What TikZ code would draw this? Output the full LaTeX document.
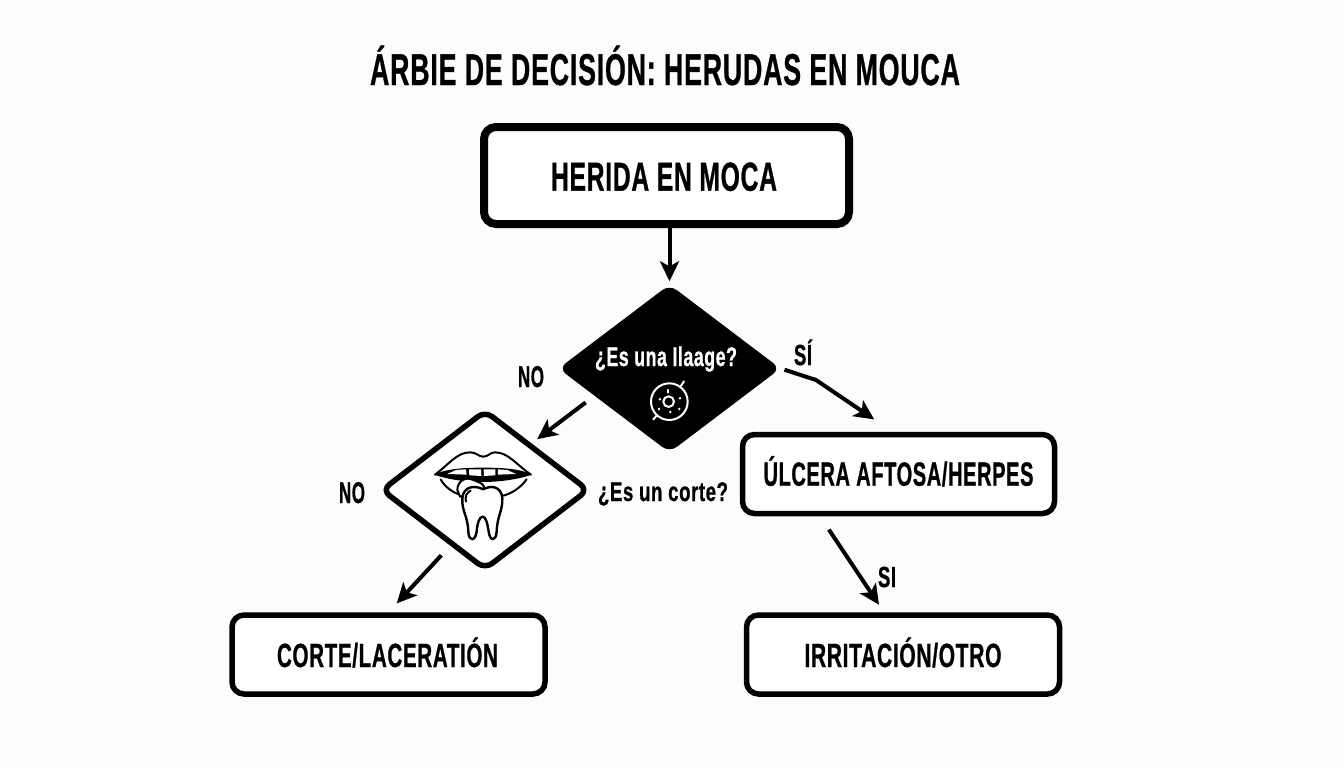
\documentclass[tikz,border=0pt]{standalone}
\usepackage{graphicx}
\usepackage{fontspec}
\setmainfont[LetterSpace=3,BoldFeatures={FakeBold=1}]{Liberation Sans}
\usetikzlibrary{shapes.geometric,arrows.meta,calc}
\newcommand{\fitw}[3]{\resizebox{#2pt}{\height}{\fontsize{#1pt}{#1pt}\selectfont\bfseries #3}}
\tikzset{
  boxnode/.style={draw=black,rounded corners=12pt,line width=5.5pt,fill=white,inner sep=0pt},
  dianode/.style={diamond,inner sep=0pt,rounded corners=9pt},
  lbl/.style={inner sep=0pt,text=black,anchor=base},
  conn/.style={draw=black,line width=4pt,-{Stealth[length=20pt,width=19pt,inset=5pt]}},
  icon/.style={line width=2pt,draw=black,line join=round,line cap=round},
  iconw/.style={line width=2pt,draw=white,line cap=round}
}
\begin{document}
\begin{tikzpicture}[x=1pt,y=-1pt]
\useasboundingbox (0,0) rectangle (1344,768);
\fill[white!99!black] (0,0) rectangle (1344,768);
% boxes
\node[boxnode,line width=8pt,minimum width=365pt,minimum height=97pt] (top) at (666.5,175.5) {};
\node[boxnode,minimum width=312pt,minimum height=79pt] (ulcer) at (898.5,474) {};
\node[boxnode,minimum width=313pt,minimum height=79pt] (corte) at (388.5,654.5) {};
\node[boxnode,minimum width=313pt,minimum height=79pt] (irr) at (903,654.5) {};
% diamonds
\node[dianode,fill=black,minimum width=222pt,minimum height=168pt] (black) at (669.5,368.5) {};
\node[dianode,draw=black,line width=5.5pt,fill=white,minimum width=208pt,minimum height=160pt] (white) at (485,490) {};
% texts
\node[lbl] (title) at (665,85) {\fitw{44.5}{590}{ÁRBIE DE DECISIÓN: HERUDAS EN MOUCA}};
\node[lbl] (ttop) at (664,190.7) {\fitw{40.5}{226}{HERIDA EN MOCA}};
\node[lbl,text=white] (tblack) at (666,366) {\fitw{27}{142}{¿Es una Ilaage?}};
\node[lbl] (twhite) at (663,501) {\fitw{27}{130}{¿Es un corte?}};
\node[lbl] (tulcer) at (898.5,485.7) {\fitw{33.5}{270}{ÚLCERA AFTOSA/HERPES}};
\node[lbl] (tcorte) at (387.5,667) {\fitw{33.5}{221}{CORTE/LACERATIÓN}};
\node[lbl] (tirr) at (903,667) {\fitw{33.5}{197}{IRRITACIÓN/OTRO}};
\node[lbl] (no1) at (531,387) {\fitw{30}{26}{NO}};
\node[lbl] (no2) at (352,503) {\fitw{30}{26}{NO}};
\node[lbl] (si1) at (803,365) {\fitw{29}{18}{SÍ}};
\node[lbl] (si2) at (887,587) {\fitw{29}{18}{SI}};
% connectors
\draw[conn,shorten >=3pt] ($(top.south)+(3,0)$) -- (black.north);
\draw[conn,shorten <=11pt,shorten >=7pt] (black.200.8) -- (white.45.4);
\coordinate (bend) at (816,380);
\draw[conn,shorten <=4pt,shorten >=22pt,line join=round] (black.east) -- (bend) -- ($(ulcer.north)+(-6,0)$);
\draw[conn,shorten <=16pt,shorten >=9pt] ($(ulcer.south)+(-78.5,0)$) -- ($(irr.north)+(-19,0)$);
\draw[conn,shorten <=13pt,shorten >=12pt] (white.238.8) -- (corte.north);
% black diamond icon
\begin{scope}[shift={(540,280)},x=0.3333pt,y=-0.3333pt]
  \draw[iconw] (388,365) circle (55);
  \draw[iconw] (386,365) circle (16);
  \draw[iconw] (420,322) -- (432,304);
  \draw[iconw] (352,405) -- (340,418);
  \draw[iconw] (384,330) -- (384,338);
  \fill[white] (360,358) circle (4) (357,387) circle (4) (391,396) circle (4) (418,387) circle (4) (420,355) circle (4);
\end{scope}
% mouth and tooth icon
\begin{scope}[shift={(370,400)},x=0.3333pt,y=-0.3333pt]
  \draw[icon,fill=white] (195,224) .. controls (235,195) and (260,157) .. (300,157)
     .. controls (320,157) and (325,170) .. (340,170)
     .. controls (355,170) and (360,157) .. (375,157)
     .. controls (415,157) and (440,195) .. (483,224);
  \fill[black] (192,224) .. controls (230,205) and (290,203) .. (340,203)
     .. controls (390,203) and (450,205) .. (485,224)
     .. controls (440,240) and (380,246) .. (340,246)
     .. controls (290,246) and (240,240) .. (192,224) -- cycle;
  \fill[white] (232,222) -- (258,210) -- (288,208) -- (290,224) -- cycle
     (297,208) -- (333,208) -- (334,228) -- (298,226) -- cycle
     (341,208) -- (376,208) -- (376,226) -- (342,228) -- cycle
     (384,208) -- (412,210) -- (438,222) -- (384,224) -- cycle;
  \draw[icon] (212,238) .. controls (225,262) and (250,278) .. (272,285);
  \draw[icon] (470,238) .. controls (450,265) and (425,280) .. (400,287);
  \draw[icon,fill=white] (262,270) .. controls (262,245) and (285,228) .. (310,240) .. controls (335,250) and (350,255) .. (340,275) -- (270,290) -- cycle;
  \draw[icon,fill=white,line width=2.4pt] (340,268)
     .. controls (315,255) and (280,258) .. (277,295)
     .. controls (275,335) and (293,345) .. (295,395)
     .. controls (296,425) and (316,425) .. (320,395)
     .. controls (322,370) and (328,350) .. (338,350)
     .. controls (348,350) and (352,370) .. (356,395)
     .. controls (360,425) and (378,425) .. (380,395)
     .. controls (382,345) and (398,335) .. (397,295)
     .. controls (394,258) and (362,255) .. (340,268) -- cycle;
  \draw[icon] (288,305) .. controls (284,290) and (290,278) .. (302,272);
\end{scope}
\end{tikzpicture}
\end{document}
